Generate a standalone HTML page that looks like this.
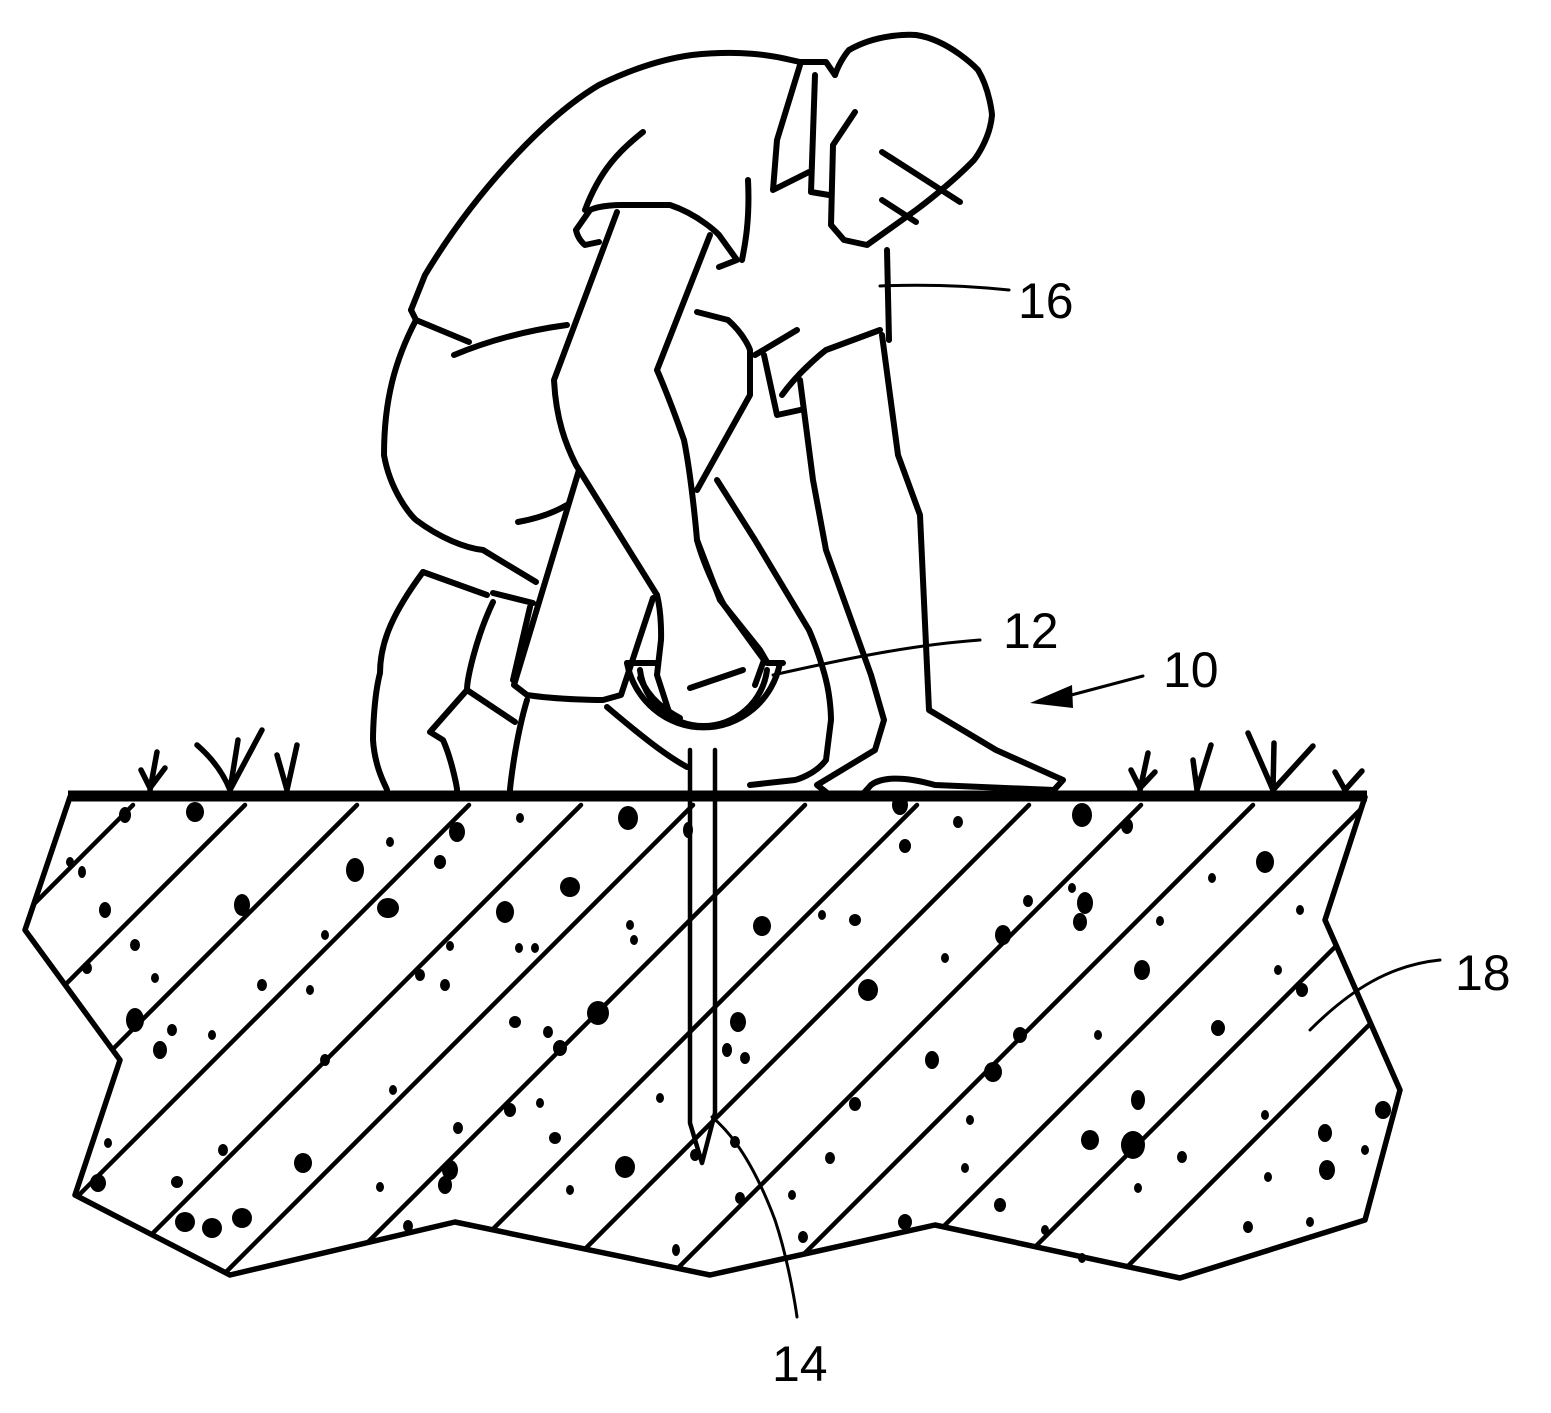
<!DOCTYPE html>
<html><head><meta charset="utf-8"><style>
html,body{margin:0;padding:0;background:#fff;}
svg{display:block;}
text{font-family:"Liberation Sans",sans-serif;font-size:50px;fill:#000;}
</style></head><body>
<svg width="1551" height="1413" viewBox="0 0 1551 1413" xmlns="http://www.w3.org/2000/svg">
<defs>
<clipPath id="soil"><polygon points="70,797 25,930 120,1060 75,1195 230,1275 455,1222 710,1275 935,1225 1180,1278 1365,1220 1400,1090 1325,920 1365,797"/></clipPath>
</defs>
<g fill="none" stroke="#000" stroke-linecap="round" stroke-linejoin="round">
<g clip-path="url(#soil)" stroke-width="4.5">
<line x1="133" y1="805" x2="-467" y2="1405"/>
<line x1="245" y1="805" x2="-355" y2="1405"/>
<line x1="357" y1="805" x2="-243" y2="1405"/>
<line x1="469" y1="805" x2="-131" y2="1405"/>
<line x1="581" y1="805" x2="-19" y2="1405"/>
<line x1="693" y1="805" x2="93" y2="1405"/>
<line x1="805" y1="805" x2="205" y2="1405"/>
<line x1="917" y1="805" x2="317" y2="1405"/>
<line x1="1029" y1="805" x2="429" y2="1405"/>
<line x1="1141" y1="805" x2="541" y2="1405"/>
<line x1="1253" y1="805" x2="653" y2="1405"/>
<line x1="1365" y1="805" x2="765" y2="1405"/>
<line x1="1477" y1="805" x2="877" y2="1405"/>
<line x1="1589" y1="805" x2="989" y2="1405"/>
</g>
<polyline points="70,797 25,930 120,1060 75,1195 230,1275 455,1222 710,1275 935,1225 1180,1278 1365,1220 1400,1090 1325,920 1365,797" stroke-width="5.5"/>
<line x1="68" y1="796" x2="1367" y2="796" stroke-width="11" stroke-linecap="butt"/>
<g stroke-width="5.5">
<path d="M150,790 L157,752 M141,770 L150,788 L165,768"/>
<path d="M230,790 L238,740 M197,745 Q220,765 230,790 L262,730"/>
<path d="M287,790 L277,755 M287,790 L297,745"/>
<path d="M1140,790 L1148,753 M1131,770 L1140,788 L1155,772"/>
<path d="M1197,790 L1193,760 M1197,790 L1211,745"/>
<path d="M1273,790 Q1260,760 1248,733 M1273,790 L1274,743 M1273,790 L1313,746"/>
<path d="M1345,790 L1335,772 M1345,790 L1362,771"/>
</g>
<g stroke-width="6">
<path d="M411,310 L425,275 C470,200 540,120 599,85 C640,65 670,58 692,55 C740,50 770,55 791,60 L800,62 L826,62 L835,75"/>
<path d="M835,75 C840,60 849,50 849,50 C880,32 916,35 916,35 C950,40 978,70 978,70 C990,90 992,115 992,115 C990,140 974,160 974,160 C950,185 916,210 916,210 L867,245 L844,240 L831,225 L833,145 L855,112"/>
<path d="M882,152 L960,202 M882,200 L916,222"/>
<path d="M800,65 L777,140 L773,190 L809,172 M815,75 L811,192 L829,195"/>
<path d="M887,250 L889,340"/>
<path d="M411,310 L416,320 L469,342"/>
<path d="M416,320 C395,360 384,400 384,455 C390,490 410,515 416,520 C440,538 465,548 483,550 L536,582"/>
<path d="M454,355 C490,340 530,330 567,325"/>
<path d="M518,522 C540,518 555,512 567,505"/>
<path d="M423,572 C395,610 380,640 380,673 C373,700 373,740 373,740 C375,770 387,788 387,790"/>
<path d="M423,572 L487,595 M493,593 L533,603"/>
<path d="M493,602 C475,640 467,680 467,690 L430,732 L443,740 C452,760 457,788 457,790"/>
<path d="M467,690 L515,722"/>
<path d="M530,607 L513,680 M527,700 C515,740 510,788 510,790"/>
<path d="M617,212 L554,380 C556,420 566,445 576,465 L657,595 C662,615 661,640 661,640 L657,675 L670,715"/>
<path d="M710,235 L657,370 C670,400 684,440 684,440 C692,480 697,540 697,540 C705,570 724,605 724,605 L764,660 L755,685"/>
<path d="M579,470 L514,685 L527,695 C560,700 603,700 603,700 L621,695 L653,598"/>
<path d="M576,230 L590,210 C600,205 621,205 621,205 L670,205 C700,215 719,235 719,235 L737,260 L719,267"/>
<path d="M576,230 C578,240 585,245 585,245 L599,242"/>
<path d="M585,210 C600,170 620,150 643,132"/>
<path d="M748,180 C750,220 745,245 742,260"/>
<path d="M717,480 L755,540 L809,630 C820,655 826,680 826,680 C831,700 831,720 831,720 L826,760 C815,775 795,780 795,780 L750,785"/>
<path d="M697,312 L728,320 C745,335 750,350 750,350 L750,395 L697,490"/>
<path d="M697,540 L720,600 L760,650 L767,662"/>
<path d="M800,380 L813,480 L826,550 L871,675 L884,720 L875,750 L817,785 L826,792"/>
<path d="M882,335 L898,455 L920,515 L929,710 L996,750 L1063,780 L1054,790 L935,785 C900,775 880,778 871,785 L862,795"/>
<path d="M755,355 L797,330"/>
<path d="M764,355 L777,415 L800,410"/>
<path d="M782,395 C800,370 826,350 826,350 L880,330"/>
<path d="M607,707 C640,735 665,755 687,767"/>
<path d="M627,663 A78,80 0 0 0 780,663"/>
<path d="M640,670 A64,64 0 0 0 767,670"/>
<path d="M627,663 L655,663 M767,663 L783,663"/>
<path d="M690,688 L743,670"/>
<path d="M640,678 C650,700 665,710 680,718"/>
</g>
<g stroke-width="4.5">
<path d="M690,750 L690,1123 L702,1163 L715,1113 L715,750"/>
</g>
<g stroke-width="3">
<path d="M880,286 C930,284 970,286 1009,290"/>
<path d="M773,675 C840,660 910,645 980,640"/>
<path d="M712,1117 C740,1140 760,1180 775,1220 C790,1265 797,1317 797,1317"/>
<path d="M1310,1030 C1350,990 1390,965 1440,960"/>
<path d="M1143,676 L1060,698"/>
</g>
</g>
<polygon points="1030,703 1072,685 1073,708" fill="#000"/>
<g fill="#000">
<ellipse cx="125" cy="815" rx="6" ry="8"/><ellipse cx="195" cy="812" rx="9" ry="10"/><ellipse cx="70" cy="862" rx="4" ry="5"/><ellipse cx="82" cy="872" rx="4" ry="6"/>
<ellipse cx="105" cy="910" rx="6" ry="8"/><ellipse cx="242" cy="905" rx="8" ry="11"/><ellipse cx="135" cy="945" rx="5" ry="6"/><ellipse cx="87" cy="968" rx="5" ry="6"/>
<ellipse cx="135" cy="1020" rx="9" ry="12"/><ellipse cx="172" cy="1030" rx="5" ry="6"/><ellipse cx="160" cy="1050" rx="7" ry="9"/><ellipse cx="212" cy="1035" rx="4" ry="5"/>
<ellipse cx="155" cy="978" rx="4" ry="5"/><ellipse cx="262" cy="985" rx="5" ry="6"/><ellipse cx="325" cy="935" rx="4" ry="5"/><ellipse cx="310" cy="990" rx="4" ry="5"/>
<ellipse cx="355" cy="870" rx="9" ry="12"/><ellipse cx="388" cy="908" rx="11" ry="10"/><ellipse cx="390" cy="842" rx="4" ry="5"/><ellipse cx="520" cy="818" rx="4" ry="5"/>
<ellipse cx="457" cy="832" rx="8" ry="10"/><ellipse cx="440" cy="862" rx="6" ry="7"/><ellipse cx="505" cy="912" rx="9" ry="11"/><ellipse cx="570" cy="887" rx="10" ry="10"/>
<ellipse cx="519" cy="948" rx="4" ry="5"/><ellipse cx="535" cy="948" rx="4" ry="5"/><ellipse cx="450" cy="946" rx="4" ry="5"/><ellipse cx="445" cy="985" rx="5" ry="6"/>
<ellipse cx="420" cy="975" rx="5" ry="6"/><ellipse cx="515" cy="1022" rx="6" ry="6"/><ellipse cx="548" cy="1032" rx="5" ry="6"/><ellipse cx="560" cy="1048" rx="7" ry="8"/>
<ellipse cx="598" cy="1013" rx="11" ry="12"/><ellipse cx="393" cy="1090" rx="4" ry="5"/><ellipse cx="325" cy="1060" rx="5" ry="6"/><ellipse cx="458" cy="1128" rx="5" ry="6"/>
<ellipse cx="510" cy="1110" rx="6" ry="7"/><ellipse cx="450" cy="1170" rx="8" ry="10"/><ellipse cx="445" cy="1185" rx="7" ry="9"/><ellipse cx="303" cy="1163" rx="9" ry="10"/>
<ellipse cx="223" cy="1150" rx="5" ry="6"/><ellipse cx="177" cy="1182" rx="6" ry="6"/><ellipse cx="98" cy="1183" rx="8" ry="9"/><ellipse cx="108" cy="1143" rx="4" ry="5"/>
<ellipse cx="185" cy="1222" rx="10" ry="10"/><ellipse cx="212" cy="1228" rx="10" ry="10"/><ellipse cx="242" cy="1218" rx="10" ry="10"/><ellipse cx="380" cy="1187" rx="4" ry="5"/>
<ellipse cx="408" cy="1226" rx="5" ry="6"/><ellipse cx="540" cy="1103" rx="4" ry="5"/><ellipse cx="555" cy="1138" rx="6" ry="6"/><ellipse cx="625" cy="1167" rx="10" ry="11"/>
<ellipse cx="570" cy="1190" rx="4" ry="5"/><ellipse cx="630" cy="925" rx="4" ry="5"/><ellipse cx="634" cy="940" rx="4" ry="5"/><ellipse cx="628" cy="818" rx="10" ry="12"/>
<ellipse cx="688" cy="830" rx="5" ry="8"/><ellipse cx="745" cy="1058" rx="5" ry="6"/><ellipse cx="727" cy="1050" rx="5" ry="7"/><ellipse cx="740" cy="1198" rx="5" ry="6"/>
<ellipse cx="738" cy="1022" rx="8" ry="10"/><ellipse cx="762" cy="926" rx="9" ry="10"/><ellipse cx="822" cy="915" rx="4" ry="5"/><ellipse cx="855" cy="920" rx="6" ry="6"/>
<ellipse cx="868" cy="990" rx="10" ry="11"/><ellipse cx="900" cy="805" rx="8" ry="10"/><ellipse cx="905" cy="846" rx="6" ry="7"/><ellipse cx="958" cy="822" rx="5" ry="6"/>
<ellipse cx="1082" cy="815" rx="10" ry="12"/><ellipse cx="1127" cy="826" rx="6" ry="8"/><ellipse cx="1028" cy="901" rx="5" ry="6"/><ellipse cx="1072" cy="888" rx="4" ry="5"/>
<ellipse cx="1085" cy="903" rx="8" ry="11"/><ellipse cx="1080" cy="922" rx="7" ry="9"/><ellipse cx="1003" cy="935" rx="8" ry="10"/><ellipse cx="945" cy="958" rx="4" ry="5"/>
<ellipse cx="932" cy="1060" rx="7" ry="9"/><ellipse cx="993" cy="1072" rx="9" ry="10"/><ellipse cx="1020" cy="1035" rx="7" ry="8"/><ellipse cx="1098" cy="1035" rx="4" ry="5"/>
<ellipse cx="1142" cy="970" rx="8" ry="10"/><ellipse cx="1160" cy="921" rx="4" ry="5"/><ellipse cx="1265" cy="862" rx="9" ry="11"/><ellipse cx="1212" cy="878" rx="4" ry="5"/>
<ellipse cx="1300" cy="910" rx="4" ry="5"/><ellipse cx="1278" cy="970" rx="4" ry="5"/><ellipse cx="1302" cy="990" rx="6" ry="7"/><ellipse cx="1218" cy="1028" rx="7" ry="8"/>
<ellipse cx="1138" cy="1100" rx="7" ry="10"/><ellipse cx="1090" cy="1140" rx="9" ry="10"/><ellipse cx="1133" cy="1145" rx="12" ry="14"/><ellipse cx="1138" cy="1188" rx="4" ry="5"/>
<ellipse cx="1182" cy="1157" rx="5" ry="6"/><ellipse cx="1265" cy="1115" rx="4" ry="5"/><ellipse cx="1325" cy="1133" rx="7" ry="9"/><ellipse cx="1327" cy="1170" rx="8" ry="10"/>
<ellipse cx="1383" cy="1110" rx="8" ry="9"/><ellipse cx="1365" cy="1150" rx="4" ry="5"/><ellipse cx="1268" cy="1177" rx="4" ry="5"/><ellipse cx="1310" cy="1222" rx="4" ry="5"/>
<ellipse cx="1248" cy="1227" rx="5" ry="6"/><ellipse cx="1045" cy="1230" rx="4" ry="5"/><ellipse cx="905" cy="1222" rx="7" ry="8"/><ellipse cx="855" cy="1104" rx="6" ry="7"/>
<ellipse cx="830" cy="1158" rx="5" ry="6"/><ellipse cx="970" cy="1120" rx="4" ry="5"/><ellipse cx="792" cy="1195" rx="4" ry="5"/><ellipse cx="1000" cy="1205" rx="6" ry="7"/>
<ellipse cx="965" cy="1168" rx="4" ry="5"/><ellipse cx="676" cy="1250" rx="4" ry="6"/><ellipse cx="803" cy="1237" rx="5" ry="6"/><ellipse cx="1082" cy="1258" rx="4" ry="5"/>
<ellipse cx="660" cy="1098" rx="4" ry="5"/><ellipse cx="735" cy="1142" rx="5" ry="6"/><ellipse cx="695" cy="1155" rx="5" ry="6"/>
</g>
<text x="1018" y="318">16</text>
<text x="1003" y="648">12</text>
<text x="1163" y="687">10</text>
<text x="1455" y="990">18</text>
<text x="772" y="1381">14</text>
</svg>
</body></html>
